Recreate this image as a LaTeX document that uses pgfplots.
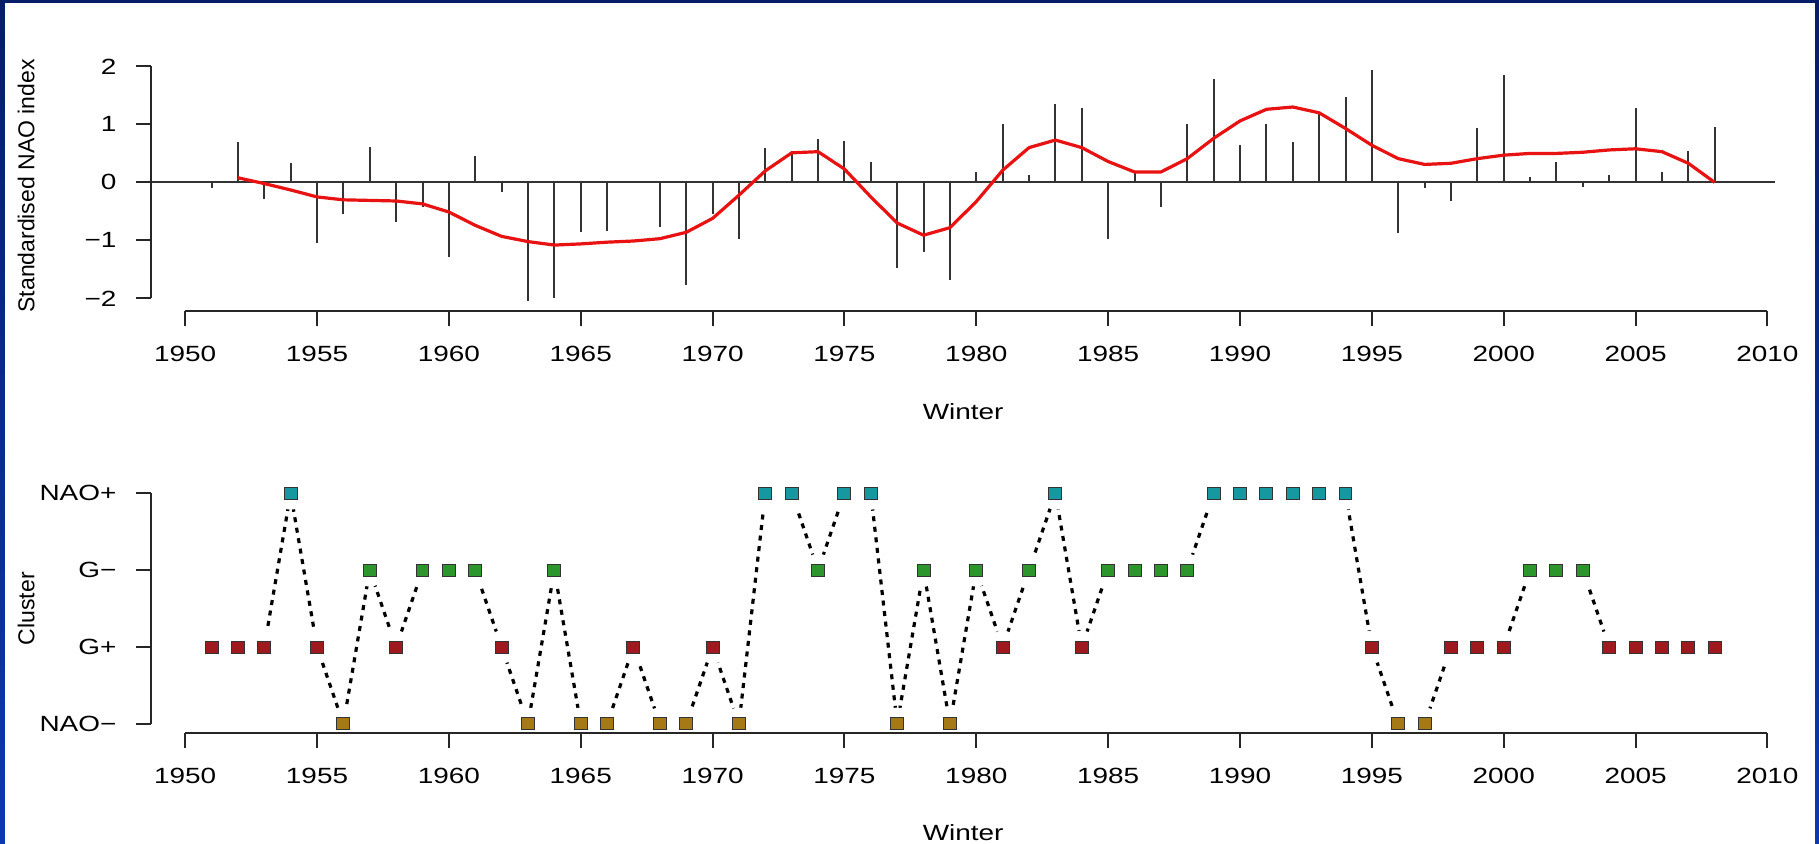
\documentclass[border=0pt]{standalone}
\usepackage{fontspec}
\setmainfont{Liberation Sans}[FakeStretch=1.27]
\newfontfamily\plainsans{Liberation Sans}
\usepackage{pgfplots}
\pgfplotsset{compat=1.18}
\usepackage{pgfplotstable}

\definecolor{navy}{RGB}{6,30,105}
\definecolor{slideblue}{RGB}{12,56,176}
\definecolor{cnaop}{RGB}{22,152,160}
\definecolor{cgm}{RGB}{44,150,44}
\definecolor{cgp}{RGB}{158,26,30}
\definecolor{cnaom}{RGB}{165,122,22}
\definecolor{fitred}{RGB}{232,18,18}

% winter NAO index (needles)
\pgfplotstableread{
year nao
1951 -0.10
1952 0.69
1953 -0.28
1954 0.33
1955 -1.05
1956 -0.55
1957 0.61
1958 -0.69
1959 -0.42
1960 -1.28
1961 0.45
1962 -0.16
1963 -2.05
1964 -2.00
1965 -0.86
1966 -0.84
1967 0.02
1968 -0.76
1969 -1.76
1970 -0.55
1971 -0.98
1972 0.60
1973 0.55
1974 0.74
1975 0.72
1976 0.35
1977 -1.47
1978 -1.20
1979 -1.68
1980 0.18
1981 1.01
1982 0.13
1983 1.35
1984 1.28
1985 -0.98
1986 0.18
1987 -0.42
1988 1.01
1989 1.78
1990 0.64
1991 1.01
1992 0.69
1993 1.22
1994 1.47
1995 1.93
1996 -0.88
1997 -0.10
1998 -0.32
1999 0.93
2000 1.86
2001 0.09
2002 0.35
2003 -0.08
2004 0.13
2005 1.28
2006 0.18
2007 0.55
2008 0.95
}\naotab

% smoothed curve
\pgfplotstableread{
year fit
1952 0.08
1953 -0.02
1954 -0.13
1955 -0.25
1956 -0.30
1957 -0.31
1958 -0.32
1959 -0.37
1960 -0.51
1961 -0.74
1962 -0.93
1963 -1.02
1964 -1.08
1965 -1.06
1966 -1.03
1967 -1.01
1968 -0.97
1969 -0.86
1970 -0.62
1971 -0.22
1972 0.20
1973 0.51
1974 0.53
1975 0.23
1976 -0.25
1977 -0.70
1978 -0.91
1979 -0.78
1980 -0.33
1981 0.21
1982 0.60
1983 0.73
1984 0.60
1985 0.36
1986 0.18
1987 0.18
1988 0.41
1989 0.76
1990 1.06
1991 1.26
1992 1.30
1993 1.20
1994 0.93
1995 0.64
1996 0.41
1997 0.31
1998 0.33
1999 0.41
2000 0.47
2001 0.50
2002 0.50
2003 0.52
2004 0.56
2005 0.58
2006 0.53
2007 0.33
2008 0.00
}\fittab

% cluster: 1=NAO-, 2=G+, 3=G-, 4=NAO+
\pgfplotstableread{
year lev cls
1951 2 b
1952 2 b
1953 2 b
1954 4 d
1955 2 b
1956 1 a
1957 3 c
1958 2 b
1959 3 c
1960 3 c
1961 3 c
1962 2 b
1963 1 a
1964 3 c
1965 1 a
1966 1 a
1967 2 b
1968 1 a
1969 1 a
1970 2 b
1971 1 a
1972 4 d
1973 4 d
1974 3 c
1975 4 d
1976 4 d
1977 1 a
1978 3 c
1979 1 a
1980 3 c
1981 2 b
1982 3 c
1983 4 d
1984 2 b
1985 3 c
1986 3 c
1987 3 c
1988 3 c
1989 4 d
1990 4 d
1991 4 d
1992 4 d
1993 4 d
1994 4 d
1995 2 b
1996 1 a
1997 1 a
1998 2 b
1999 2 b
2000 2 b
2001 3 c
2002 3 c
2003 3 c
2004 2 b
2005 2 b
2006 2 b
2007 2 b
2008 2 b
}\clustab

\newcommand\tickfont{\fontsize{11bp}{13bp}\selectfont}
\newcommand\rotfont{\plainsans\fontsize{11.5bp}{14bp}\selectfont}

\tikzset{axisline/.style={black!85, line width=1bp}}

\pgfplotsset{
  rplot/.style={
    scale only axis, width=811.7bp,
    xmin=1948.72, xmax=2010.28,
    set layers=axis on top,
    axis x line*=bottom, axis y line*=left,
    axis line style={draw=none},
    tick align=outside, major tick length=7.5bp,
    tick style={black!85, line width=1bp},
    xtick={1950,1955,...,2010},
    xticklabels={1950,1955,1960,1965,1970,1975,1980,1985,1990,1995,2000,2005,2010},
    tick label style={font=\tickfont},
    xticklabel shift=6.2bp, yticklabel shift=6.5bp,
    xlabel=Winter,
    xlabel style={font=\tickfont, at={(axis description cs:0.5,-0.40)}, anchor=center},
    ylabel style={font=\rotfont, at={(axis description cs:-0.0772,0.5)}, anchor=center},
    clip=false,
  },
}

\begin{document}
\begin{tikzpicture}
\shade[top color=navy, bottom color=slideblue] (0,0) rectangle (909.5bp,-422bp);
\fill[white] (2.5bp,-1.7bp) rectangle (907.5bp,-422bp);

\begin{axis}[rplot, at={(75.7bp,-155.6bp)}, anchor=south west,
  height=125.3bp, ymin=-2.22, ymax=2.1,
  ytick={-2,-1,0,1,2}, yticklabels={−2,−1,0,1,2},
  ylabel={Standardised NAO index}]
\addplot[black!80, line width=1bp] coordinates {(1948.72,0) (2010.28,0)};
\addplot[ycomb, black!80, line width=1bp, mark=none] table[x=year,y=nao]{\naotab};
\addplot[fitred, line width=1.6bp, line join=round, mark=none] table[x=year,y=fit]{\fittab};
\addplot[axisline, on layer=axis foreground] coordinates {(1950,-2.22) (2010,-2.22)};
\addplot[axisline, on layer=axis foreground] coordinates {(1948.72,-2) (1948.72,2)};
\end{axis}

\begin{axis}[rplot, at={(75.7bp,-366.6bp)}, anchor=south west,
  height=124.6bp, ymin=0.88, ymax=4.12,
  ytick={1,2,3,4}, yticklabels={NAO−,G+,G−,NAO+},
  ylabel={Cluster}]
\addplot[black, line width=1.6bp, dash pattern=on 2.5bp off 2.8bp, mark=none] table[x=year,y=lev]{\clustab};
% white gaps around the points, as in type="b"
\addplot[white, only marks, mark=*, mark size=8bp] table[x=year,y=lev]{\clustab};
\addplot[scatter, only marks, scatter src=explicit symbolic,
  mark options={xscale=1.08},
  scatter/classes={
    a={mark=square*, mark size=3bp, fill=cnaom, draw=black!80, line width=0.5bp},
    b={mark=square*, mark size=3bp, fill=cgp, draw=black!80, line width=0.5bp},
    c={mark=square*, mark size=3bp, fill=cgm, draw=black!80, line width=0.5bp},
    d={mark=square*, mark size=3bp, fill=cnaop, draw=black!80, line width=0.5bp}}]
  table[x=year,y=lev,meta=cls]{\clustab};
\addplot[axisline, on layer=axis foreground] coordinates {(1950,0.88) (2010,0.88)};
\addplot[axisline, on layer=axis foreground] coordinates {(1948.72,1) (1948.72,4)};
\end{axis}

\pgfresetboundingbox
\path (0,0) rectangle (909.5bp,-422bp);
\end{tikzpicture}
\end{document}
